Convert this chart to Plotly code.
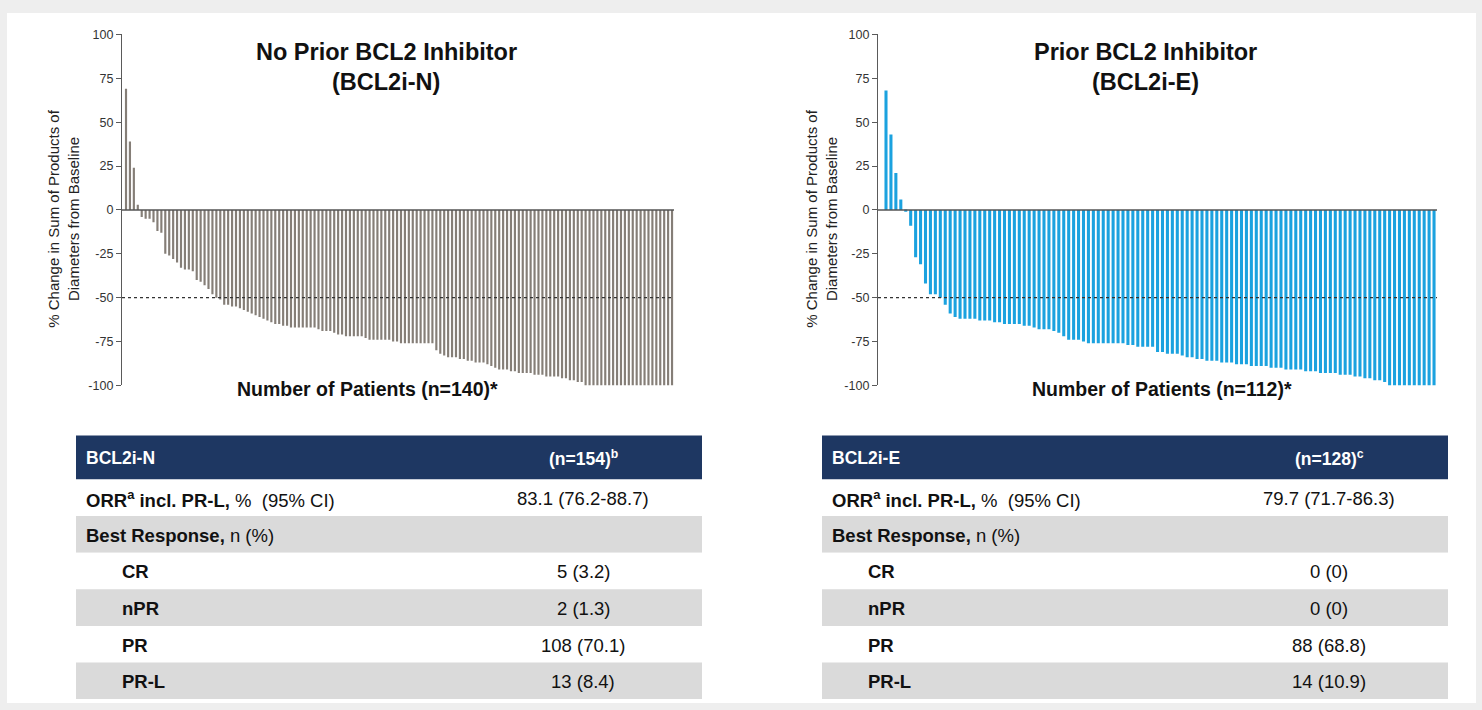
import plotly.graph_objects as go

# ---- waterfall data: best % change in SPD from baseline, sorted per patient ----
naive_change = [
    69, 39, 24, 3,
    -4, -5, -5, -7,
    -12, -13,
    -25, -26, -28, -30,
    -33, -34, -34, -35,
    -40, -41, -43, -45, -48,
    -50, -51, -54, -54, -55, -55, -56, -57, -58, -59, -60, -61, -62, -63, -64,
    -65, -65, -66, -66, -67, -67,
    -67, -67, -67, -67, -67,
    -68, -69, -69, -69,
    -70, -71, -71,
    -72, -72, -72, -72, -72,
    -73, -74, -74, -74, -74, -74, -74, -75, -75,
    -76, -76, -76, -76, -76, -76, -76, -76, -76,
    -80, -82,
    -83, -84, -84, -84,
    -85, -85, -86, -86, -87,
    -87, -87, -88, -89, -90,
    -91, -91, -91, -92, -92,
    -93, -93, -93, -93, -94,
    -94, -94, -95, -95, -95,
    -95, -96, -96, -97,
    -97, -98, -98,
    -100, -100, -100, -100, -100, -100, -100, -100, -100, -100, -100, -100,
    -100, -100, -100, -100, -100, -100, -100, -100, -100, -100, -100,
]

exposed_change = [
    68, 43, 21, 6, -1, -9, -27, -31, -42, -48, -48, -50, -54, -59, -61, -62,
    -62, -62, -62, -63, -63, -63,
    -64, -64, -65, -65, -65, -65, -66,
    -66, -67, -68, -68, -68,
    -69, -70,
    -72,
    -74, -74, -74, -75,
    -76, -76, -76, -76, -76, -76, -76, -76,
    -77, -77, -78, -78, -78, -78,
    -81, -81, -82, -82, -82,
    -83, -84, -84, -85, -85,
    -86, -86, -86, -87, -87, -87,
    -88, -88, -88, -89, -89, -89, -89, -90,
    -90, -90, -91, -91, -91, -91, -92, -92,
    -92, -93, -93, -93, -93, -94, -94, -94,
    -95, -95, -96,
    -96, -97, -97, -98,
    -100, -100, -100, -100, -100, -100, -100, -100, -100, -100,
]

y_tick_vals = [100, 75, 50, 25, 0, -25, -50, -75, -100]
y_tick_text = ["100", "75", "50", "25", "0", "-25", "-50", "-75", "-100"]
response_threshold = -50

panel_titles = [["No Prior BCL2 Inhibitor", "(BCL2i-N)"], ["Prior BCL2 Inhibitor", "(BCL2i-E)"]]
x_titles = ["Number of Patients (n=140)*", "Number of Patients (n=112)*"]
y_title = "% Change in Sum of Products of<br>Diameters from Baseline"

# ---- response table data ----
table_headers = [["BCL2i-N", "(n=154)<sup>b</sup>"], ["BCL2i-E", "(n=128)<sup>c</sup>"]]
row_labels = [
    "<b>ORR<sup>a</sup> incl. PR-L,</b> %\u00a0 (95% CI)",
    "<b>Best Response,</b> n (%)",
    "<b>CR</b>",
    "<b>nPR</b>",
    "<b>PR</b>",
    "<b>PR-L</b>",
]
row_indented = [False, False, True, True, True, True]
naive_values = ["83.1 (76.2-88.7)", "", "5 (3.2)", "2 (1.3)", "108 (70.1)", "13 (8.4)"]
exposed_values = ["79.7 (71.7-86.3)", "", "0 (0)", "0 (0)", "88 (68.8)", "14 (10.9)"]

# ---- page geometry (pixels) ----
W, H = 1482, 710
FONT = "Arial, Liberation Sans, sans-serif"
BAR_COLORS = ["#857e77", "#1ba2df"]
NAVY = "#1e3762"
ROW_GREY = "#dadada"


def px_x(p):
    return p / W


def px_y(p):
    return 1 - p / H


fig = go.Figure()

panels = [
    dict(data=naive_change, dom=(122, 674), rng=(-0.02, 140.5), width=0.55,
         ytitle_x=64, title_x=386, xtitle_x=367, table_left=76,
         header=table_headers[0], values=naive_values),
    dict(data=exposed_change, dom=(878, 1437), rng=(-0.62, 112.6), width=0.62,
         ytitle_x=822, title_x=1145, xtitle_x=1162, table_left=822,
         header=table_headers[1], values=exposed_values),
]

plot_top, plot_bottom = 28, 386
shapes = []
annotations = []

# white page panel inside the thin grey frame
shapes.append(dict(type="rect", xref="paper", yref="paper", layer="below",
                   x0=px_x(7), x1=px_x(1476), y0=0, y1=px_y(6),
                   fillcolor="white", line=dict(width=0)))

for k, p in enumerate(panels):
    xa = "x" if k == 0 else "x2"
    ya = "y" if k == 0 else "y2"
    n = len(p["data"])
    fig.add_trace(go.Bar(
        x=list(range(1, n + 1)), y=p["data"], xaxis=xa, yaxis=ya, width=p["width"],
        marker=dict(color=BAR_COLORS[k], line=dict(width=0)),
        showlegend=False, hoverinfo="y",
    ))
    axis_x = dict(domain=[px_x(p["dom"][0]), px_x(p["dom"][1])], range=list(p["rng"]),
                  showgrid=False, zeroline=False, showline=False, showticklabels=False,
                  ticks="", fixedrange=True, anchor=ya)
    axis_y = dict(domain=[px_y(plot_bottom), px_y(plot_top)], range=[-100, 100],
                  showgrid=False, zeroline=False, showline=True, linecolor="#5a5a5a",
                  linewidth=1.2, ticks="outside", ticklen=5, tickwidth=1.2,
                  tickcolor="#5a5a5a", tickvals=y_tick_vals, ticktext=y_tick_text,
                  tickfont=dict(family=FONT, size=12.5, color="#333333"), fixedrange=True,
                  anchor=xa)
    if k == 0:
        fig.update_layout(xaxis=axis_x, yaxis=axis_y)
    else:
        fig.update_layout(xaxis2=axis_x, yaxis2=axis_y)

    xd = f"{xa} domain"
    # baseline at 0 and the -50% response threshold
    shapes.append(dict(type="line", xref=xd, yref=ya, x0=0, x1=1, y0=0, y1=0,
                       line=dict(color="#555555", width=1.5)))
    shapes.append(dict(type="line", xref=xd, yref=ya, x0=0, x1=1,
                       y0=response_threshold, y1=response_threshold,
                       line=dict(color="#333333", width=1.2, dash="3px,3px")))

    for line_text, ly in zip(panel_titles[k], (46, 76)):
        annotations.append(dict(text=f"<b>{line_text}</b>",
                                x=px_x(p["title_x"]), y=px_y(ly), xref="paper", yref="paper",
                                showarrow=False, xanchor="center", yanchor="middle",
                                font=dict(family=FONT, size=23.5, color="#111111")))
    annotations.append(dict(text=f"<b>{x_titles[k]}</b>", x=px_x(p["xtitle_x"]), y=px_y(390),
                            xref="paper", yref="paper", showarrow=False,
                            xanchor="center", yanchor="middle",
                            font=dict(family=FONT, size=19.5, color="#111111")))
    annotations.append(dict(text=y_title, x=px_x(p["ytitle_x"]), y=px_y(216),
                            xref="paper", yref="paper", showarrow=False, textangle=-90,
                            xanchor="center", yanchor="middle",
                            font=dict(family=FONT, size=15, color="#222222")))

    # ---- response table ----
    tl = p["table_left"]
    tr = tl + 626
    val_cx = tl + 507
    header_top, header_bot = 437, 482
    row_h = (706 - header_bot) / len(row_labels)
    shapes.append(dict(type="rect", xref="paper", yref="paper",
                       x0=px_x(tl), x1=px_x(tr), y0=px_y(header_bot), y1=px_y(header_top),
                       fillcolor=NAVY, line=dict(width=0)))
    hy = px_y((header_top + header_bot) / 2 + 1)
    annotations.append(dict(text=f"<b>{p['header'][0]}</b>", x=px_x(tl + 8), y=hy,
                            xref="paper", yref="paper",
                            showarrow=False, xanchor="left", yanchor="middle",
                            font=dict(family=FONT, size=17.5, color="white")))
    annotations.append(dict(text=f"<b>{p['header'][1]}</b>", x=px_x(val_cx), y=hy,
                            xref="paper", yref="paper",
                            showarrow=False, xanchor="center", yanchor="middle",
                            font=dict(family=FONT, size=17.5, color="white")))
    for r, label in enumerate(row_labels):
        top = header_bot + r * row_h
        bot = top + row_h
        fill = "white" if r % 2 == 0 else ROW_GREY
        shapes.append(dict(type="rect", xref="paper", yref="paper",
                           x0=px_x(tl), x1=px_x(tr), y0=px_y(bot), y1=px_y(top),
                           fillcolor=fill, line=dict(width=0)))
        cy = px_y((top + bot) / 2 + 1)
        annotations.append(dict(text=label, x=px_x(tl + (44 if row_indented[r] else 8)), y=cy,
                                xref="paper", yref="paper", showarrow=False,
                                xanchor="left", yanchor="middle",
                                font=dict(family=FONT, size=18.5, color="#111111")))
        if p["values"][r]:
            annotations.append(dict(text=p["values"][r], x=px_x(val_cx), y=cy,
                                    xref="paper", yref="paper", showarrow=False,
                                    xanchor="center", yanchor="middle",
                                    font=dict(family=FONT, size=18.5, color="#111111")))

fig.update_layout(
    width=W, height=H,
    margin=dict(l=0, r=0, t=0, b=0),
    paper_bgcolor="#eeeeee",
    plot_bgcolor="rgba(0,0,0,0)",
    shapes=shapes,
    annotations=annotations,
    showlegend=False,
)

fig.write_html("out.html", include_plotlyjs=True, config={"displayModeBar": False})
